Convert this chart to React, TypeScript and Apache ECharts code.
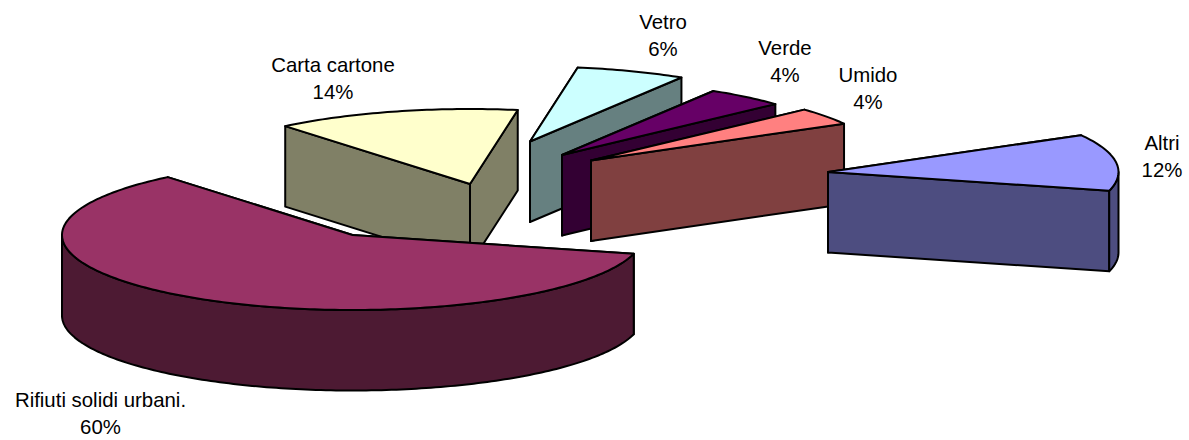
import React, { useEffect, useRef } from "react";
import * as echarts from "echarts";

// Data (share of total, %)
const categories = ["Rifiuti solidi urbani.", "Carta cartone", "Vetro", "Verde", "Umido", "Altri"];
const values = [60.0, 13.6, 6.1, 4.4, 3.7, 12.2];

// Styling and layout
const topColors = ["#993366", "#FFFFCC", "#CCFFFF", "#660066", "#FF8080", "#9999FF"];
const sideColors = ["#4D1A33", "#808066", "#668080", "#330033", "#804040", "#4D4D80"];
const apexX = [352.5, 470, 530, 562, 591, 828];
const apexY = [235, 184, 141.5, 155, 160.5, 172];
const labelX = [100.5, 333, 663, 785, 868, 1162];
const labelY = [400, 64.5, 22, 48, 75, 143];
const paintOrder = [5, 4, 0, 1, 2, 3]; // higher paints later
const firstSliceStart = 14.5; // degrees clockwise from east
const RX = 290.5;
const RY = 75;
const DEPTH = 80.5;
const LABEL_LINE = 27;
const FONT = '20.4px "Liberation Sans", Arial, sans-serif';

const rad = (d: number) => (d * Math.PI) / 180;

function rimPoints(cx: number, cy: number, a: number, b: number): number[][] {
  const out: number[][] = [];
  const n = Math.max(2, Math.ceil(Math.abs(b - a)));
  for (let i = 0; i <= n; i++) {
    const t = rad(a + ((b - a) * i) / n);
    out.push([cx + RX * Math.cos(t), cy + RY * Math.sin(t)]);
  }
  return out;
}

function App() {
  const ref = useRef<HTMLDivElement>(null);
  useEffect(() => {
    const chart = echarts.init(ref.current!, undefined, { renderer: "svg" });
    const total = values.reduce((s, v) => s + v, 0);

    const renderItem = (params: any, api: any) => {
      const i = params.dataIndex;
      const v = api.value(0) as number;
      let before = 0;
      for (let k = 0; k < i; k++) before += values[k];
      const a0 = firstSliceStart + (before / total) * 360;
      const a1 = a0 + (v / total) * 360;
      const cx = apexX[i];
      const cy = apexY[i];
      const rim = rimPoints(cx, cy, a0, a1);
      const z = (paintOrder[i] + 1) * 10;
      const line = { stroke: "#000", lineWidth: 2, lineJoin: "round" };
      const children: any[] = [];

      // Flat cut faces
      [rim[0], rim[rim.length - 1]].forEach((p) => {
        children.push({
          type: "polygon",
          z2: z,
          shape: { points: [[cx, cy], p, [p[0], p[1] + DEPTH], [cx, cy + DEPTH]] },
          style: { fill: sideColors[i], ...line },
        });
      });

      // Outer curved wall: only the part facing the viewer (0..180 and 360..540 degrees)
      [[0, 180], [360, 540]].forEach(([lo, hi]) => {
        const s = Math.max(a0, lo);
        const e = Math.min(a1, hi);
        if (e > s) {
          const top = rimPoints(cx, cy, s, e);
          const bottom = top.map((p) => [p[0], p[1] + DEPTH]).reverse();
          children.push({
            type: "polygon",
            z2: z + 1,
            shape: { points: [...top, ...bottom] },
            style: { fill: sideColors[i], ...line },
          });
        }
      });

      // Top face
      children.push({
        type: "polygon",
        z2: z + 2,
        shape: { points: [[cx, cy], ...rim] },
        style: { fill: topColors[i], ...line },
      });

      // Label: name and percentage
      [categories[i], `${Math.round((v / total) * 100)}%`].forEach((t, k) => {
        children.push({
          type: "text",
          z2: 200,
          style: {
            text: t,
            x: labelX[i],
            y: labelY[i] + k * LABEL_LINE,
            align: "center",
            verticalAlign: "middle",
            font: FONT,
            fill: "#000",
          },
        });
      });

      return { type: "group", children };
    };

    chart.setOption({
      animation: false,
      backgroundColor: "#fff",
      series: [
        {
          type: "custom",
          coordinateSystem: "none",
          silent: true,
          renderItem,
          data: values.map((v, i) => ({ name: categories[i], value: [v] })),
        },
      ],
    });
    return () => chart.dispose();
  }, []);
  return (
    <div
      ref={ref}
      style={{ position: "absolute", left: 0, top: 0, width: 1189, height: 440 }}
    />
  );
}

export default App;
